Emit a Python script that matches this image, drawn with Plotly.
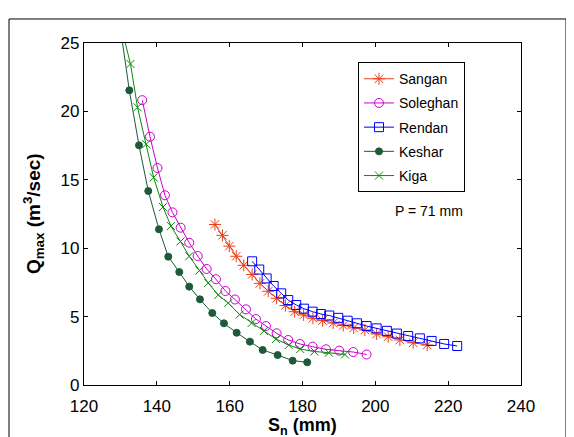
import plotly.graph_objects as go

# ---- data ----
sangan_x = [155.96, 158.02, 159.89, 161.81, 163.87, 166.17, 168.31, 170.59, 172.9, 175.31,
            177.84, 180.31, 182.86, 185.52, 188.43, 191.18, 194.06, 197.13, 200.35, 203.53,
            206.74, 210.39, 214.24]
sangan_y = [11.73, 10.94, 10.15, 9.41, 8.75, 8.08, 7.43, 6.85, 6.34, 5.81,
            5.36, 5.12, 4.88, 4.71, 4.53, 4.35, 4.17, 4.02, 3.73, 3.53,
            3.29, 3.09, 2.92]

soleghan_x = [136.0, 138.12, 140.18, 142.23, 144.29, 146.54, 148.9, 151.21, 153.68, 156.23,
              158.84, 161.45, 164.47, 167.21, 169.96, 172.9, 176.08, 179.29, 182.78, 186.43,
              190.08, 193.92, 197.6]
soleghan_y = [20.82, 18.15, 15.86, 13.87, 12.62, 11.5, 10.4, 9.43, 8.48, 7.73,
              6.87, 6.25, 5.53, 4.82, 4.31, 3.78, 3.29, 3.0, 2.8, 2.61,
              2.51, 2.41, 2.23]

rendan_x = [166.17, 168.12, 170.15, 172.07, 174.16, 176.08, 178.28, 180.39, 182.78, 185.06,
            187.34, 189.81, 192.39, 194.94, 197.6, 200.35, 203.17, 205.92, 209.02, 212.23,
            215.45, 218.9, 222.47]
rendan_y = [9.04, 8.44, 7.79, 7.24, 6.7, 6.21, 5.85, 5.58, 5.36, 5.19,
            5.08, 4.91, 4.7, 4.51, 4.31, 4.14, 3.96, 3.76, 3.58, 3.41,
            3.22, 3.0, 2.85]

keshar_x = [129.9, 132.44, 135.10, 137.65, 140.59, 143.14, 146.16, 148.9, 151.84, 155.22,
            158.43, 161.92, 165.57, 169.06, 173.17, 177.29, 181.3]
keshar_y = [26.3, 21.54, 17.52, 14.18, 11.38, 9.38, 8.26, 7.19, 6.26, 5.26,
            4.51, 3.82, 3.17, 2.56, 2.19, 1.78, 1.66]

kiga_x = [129.77, 132.76, 134.69, 137.07, 139.13, 141.69, 143.88, 146.49, 148.9, 151.7,
          154.12, 156.87, 159.61, 162.74, 166.03, 169.41, 172.7, 176.22, 179.38, 183.27,
          187.25, 191.65]
kiga_y = [26.68, 23.47, 20.3, 17.6, 15.17, 13.01, 11.62, 10.49, 9.41, 8.37,
          7.46, 6.58, 5.99, 5.15, 4.53, 3.95, 3.36, 2.92, 2.63, 2.45,
          2.36, 2.23]

x_ticks = [120, 140, 160, 180, 200, 220, 240]
y_ticks = [0, 5, 10, 15, 20, 25]

series = [
    ("Sangan", sangan_x, sangan_y, "#e8401a", "asterisk-open", 10),
    ("Soleghan", soleghan_x, soleghan_y, "#cc00cc", "circle-open", 9),
    ("Rendan", rendan_x, rendan_y, "#0000ff", "square-open", 9),
    ("Keshar", keshar_x, keshar_y, "#1e5a3a", "circle", 7),
    ("Kiga", kiga_x, kiga_y, "#0a8a0a", "x-thin-open", 8),
]

fig = go.Figure()
for name, xs, ys, col, sym, sz in series:
    fig.add_trace(go.Scatter(
        x=xs, y=ys, name=name, mode="lines+markers", legendgroup=name,
        line=dict(color=col, width=1),
        marker=dict(symbol=sym, size=sz, color=col, line=dict(color=col, width=1)),
    ))

axis_common = dict(
    showgrid=False, zeroline=False, showline=True, linecolor="black", linewidth=1.2,
    mirror="ticks", ticks="inside", ticklen=4, tickcolor="black", automargin=False,
    tickfont=dict(family="Arial", size=17, color="black"),
)

fig.update_layout(
    width=574, height=437,
    margin=dict(l=76, r=61, t=35, b=60),
    paper_bgcolor="white", plot_bgcolor="white",
    font=dict(family="Arial", color="black"),
    xaxis=dict(range=[120, 240], tickvals=x_ticks, ticklabelstandoff=5, **axis_common),
    yaxis=dict(range=[0, 25], tickvals=y_ticks, **axis_common),
    legend=dict(x=0.627, y=0.944, xanchor="left", yanchor="top",
                bgcolor="white", bordercolor="black", borderwidth=1,
                font=dict(family="Arial", size=14, color="black"),
                tracegroupgap=3),
    annotations=[
        dict(text="P = 71 mm", x=214.7, y=12.7, xref="x", yref="y",
             xanchor="center", yanchor="middle",
             showarrow=False, font=dict(family="Arial", size=14, color="black")),
        dict(text="<b>S<sub>n</sub> (mm)</b>", x=0.5, y=-0.12, xref="paper", yref="paper",
             xanchor="center", yanchor="middle", showarrow=False,
             font=dict(family="Arial", size=18, color="black")),
        dict(text="<b>Q<sub>max</sub> (m<sup>3</sup>/sec)</b>", x=-0.1167, y=0.5,
             xref="paper", yref="paper", textangle=-90,
             xanchor="center", yanchor="middle", showarrow=False,
             font=dict(family="Arial", size=19, color="black")),
    ],
    shapes=[dict(type="rect", xref="paper", yref="paper",
                 x0=-0.1716, x1=1.103, y0=-0.25, y1=1.0702,
                 line=dict(color="black", width=1), fillcolor="rgba(0,0,0,0)", layer="below")],
)

fig.write_html("out.html")
